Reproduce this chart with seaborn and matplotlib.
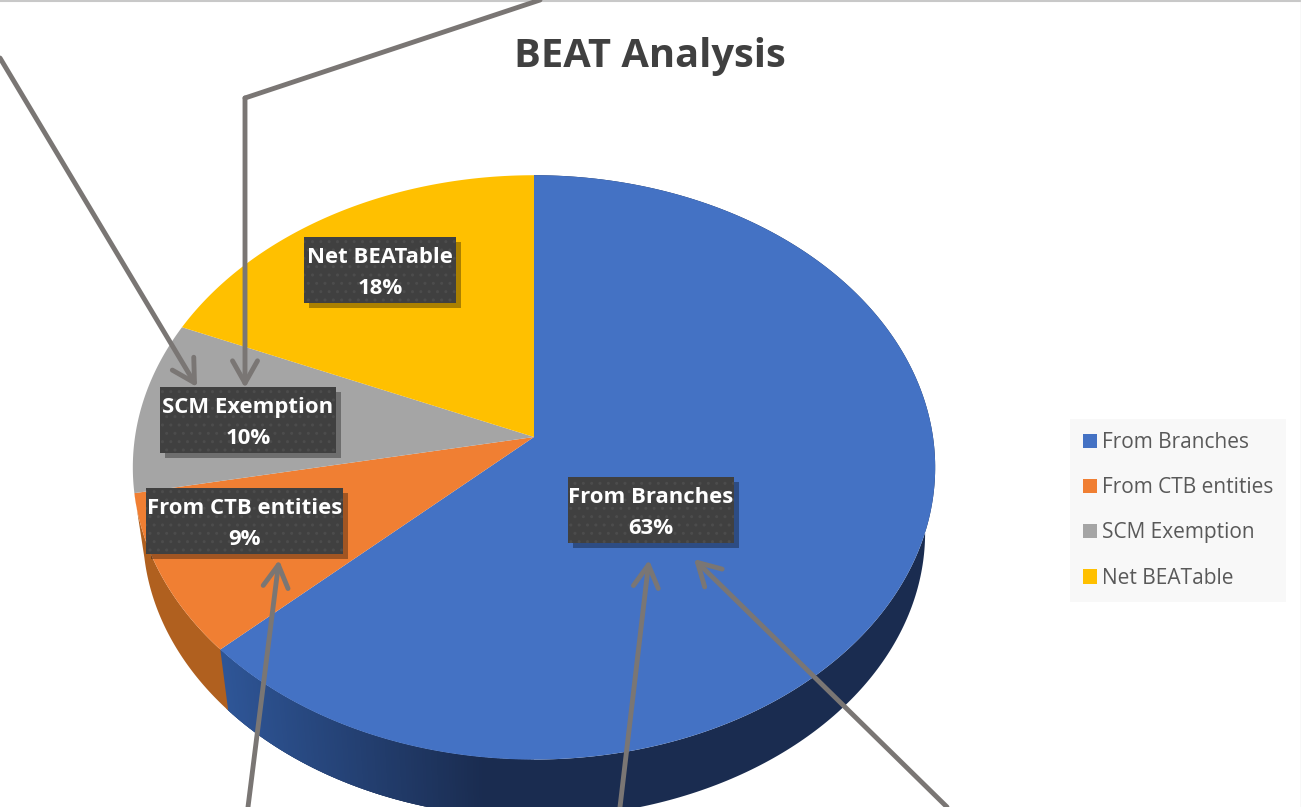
import numpy as np
import matplotlib
matplotlib.use("Agg")
import matplotlib.pyplot as plt
import matplotlib.colors as mcolors
from matplotlib.patches import Patch, Rectangle
import seaborn as sns

categories = ["From Branches", "From CTB entities", "SCM Exemption", "Net BEATable"]
shares = [62.9, 8.9, 9.5, 18.49]
colors = ["#4472c4", "#f07f33", "#a5a5a5", "#ffc000"]

sns.set_theme(style="white")
plt.rcParams["font.family"] = ["Open Sans", "DejaVu Sans"]
plt.rcParams["hatch.linewidth"] = 1.0
palette = sns.color_palette(colors)

# 画面上の楕円(遠近あり)
CX, TOP_Y, TOP_A, TOP_B = 534, 437, 399, 289
BOT_Y, BOT_A, BOT_B = 503, 389, 282
PERSP = 0.104


def project(theta, a, b, y0):
    u, v = np.sin(theta), np.cos(theta)
    w = 1 + PERSP * v
    return CX + a * u / w, y0 - b * v / w


def wall_polygon(ts):
    x0, y0 = project(ts, TOP_A, TOP_B, TOP_Y)
    x1, y1 = project(ts, BOT_A, BOT_B, BOT_Y)
    return np.r_[x0, x1[::-1]], np.r_[y0, y1[::-1]]


fig = plt.figure(figsize=(13.01, 8.07), dpi=100)
ax = fig.add_axes([0, 0, 1, 1])
ax.set_xlim(0, 1301)
ax.set_ylim(807, 0)
ax.axis("off")

edges = 2 * np.pi * np.cumsum([0] + shares) / np.sum(shares)

# 側面: まず全体を暗い色で塗り、左側だけグラデーションを重ねる
wall_left = np.array(mcolors.to_rgb("#2e5596"))
wall_right = np.array(mcolors.to_rgb("#1a2c50"))
wx, wy = wall_polygon(np.linspace(edges[0], edges[1], 300))
ax.fill(wx, wy, color=wall_right, lw=0, zorder=1)
steps = np.linspace(np.pi, edges[1], 120)
for t0, t1 in zip(steps[:-1], steps[1:]):
    wx, wy = wall_polygon(np.array([t0, t1 + 0.006]))
    mix = np.clip((project(t0, TOP_A, TOP_B, TOP_Y)[0] - 225) / 260, 0, 1)
    ax.fill(wx, wy, color=(1 - mix) * wall_left + mix * wall_right, lw=0, zorder=1)

wx, wy = wall_polygon(np.linspace(edges[1], edges[2], 60))
ax.fill(wx, wy, color="#b0601f", lw=0, zorder=1)

# 上面
for i, col in enumerate(palette):
    ts = np.linspace(edges[i], edges[i + 1], 300)
    x, y = project(ts, TOP_A, TOP_B, TOP_Y)
    ax.fill(np.r_[CX, x], np.r_[TOP_Y, y], color=col, lw=0, zorder=2)

# ラベル
label_boxes = [(568, 477, 166, 66), (146, 488, 197, 66), (160, 387, 176, 66), (304, 237, 152, 66)]
for (bx, by, bw, bh), name, val in zip(label_boxes, categories, shares):
    ax.add_patch(Rectangle((bx + 5, by + 5), bw, bh, facecolor="black", alpha=0.33, lw=0, zorder=3))
    ax.add_patch(Rectangle((bx, by), bw, bh, facecolor="#404040", edgecolor="#4c4c4c", hatch="..", lw=0, zorder=4))
    ax.text(bx + bw / 2, by + bh / 2 + 3, f"{name}\n{val:.0f}%", color="white", fontsize=15.9, fontweight="bold",
            ha="center", va="center", linespacing=1.65, zorder=5)

# 矢印
arrow_kw = dict(arrowstyle="->,head_length=0.8,head_width=0.45", color="#7a7674", lw=3.5,
                mutation_scale=20, shrinkA=0, shrinkB=0)
arrows = [((0, 58), (197, 387)), ((245, 98), (245, 388)), ((248, 807), (279, 560)),
          ((620, 807), (649, 560)), ((947, 807), (694, 559))]
for start, tip in arrows:
    ax.annotate("", xy=tip, xytext=start, xycoords="data", textcoords="data", arrowprops=arrow_kw, zorder=6)
ax.plot([245, 540], [98, 0], color="#7a7674", lw=3.5, zorder=6)

ax.text(650, 56, "BEAT Analysis", color="#404040", fontsize=28.7, fontweight="bold", ha="center", va="center")

handles = [Patch(facecolor=c, edgecolor="none", label=n) for c, n in zip(palette, categories)]
ax.legend(handles=handles, loc="upper left", bbox_to_anchor=(1070, 419), bbox_transform=ax.transData,
          frameon=True, facecolor="#f8f8f8", edgecolor="none", fancybox=False, framealpha=1,
          fontsize=15, labelcolor="#595959", handlelength=0.67, handleheight=0.67, handletextpad=0.24,
          labelspacing=1.165, borderpad=0.62, borderaxespad=0)

# 元画像の枠線
ax.plot([0, 1301], [1, 1], color="#c8c8c8", lw=1.5, zorder=0)
ax.plot([1300.5, 1300.5], [0, 807], color="#dddddd", lw=1, zorder=0)

fig.savefig("out.png", dpi=100)
